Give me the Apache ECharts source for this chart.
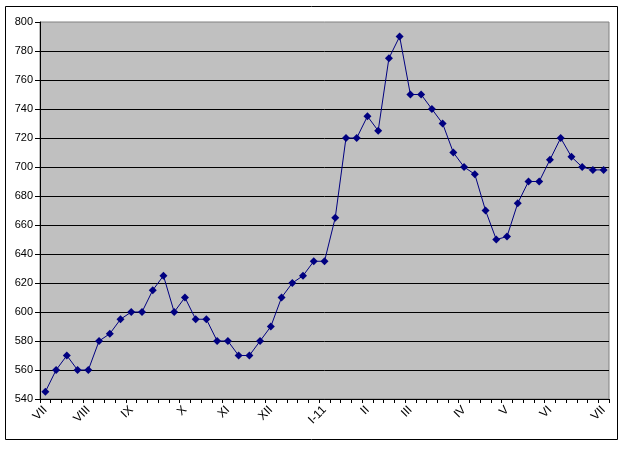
<!DOCTYPE html>
<html>
<head>
<meta charset="utf-8">
<script src="https://cdn.jsdelivr.net/npm/echarts@6/dist/echarts.min.js"></script>
<style>
html,body{margin:0;padding:0;background:#fff;}
#chart{width:628px;height:468px;}
</style>
</head>
<body>
<div id="chart"></div>
<script>
// Weekly values (53 points)
const values = [545,560,570,560,560,580,585,595,600,600,615,625,600,610,595,595,580,580,570,570,580,590,610,620,625,635,635,665,720,720,735,725,775,790,750,750,740,730,710,700,695,670,650,652,675,690,690,705,720,707,700,698,698];
const tickLabels = ['VII','VIII','IX','X','XI','XII','I-11','II','III','IV','V','VI','VII'];
const tickIndex = [0,4,8,13,17,21,26,30,34,39,43,47,52];
const yMin = 540, yMax = 800, yStep = 20;

const categories = values.map(function(_, i){
  const k = tickIndex.indexOf(i);
  return k >= 0 ? tickLabels[k] : '';
});

const chart = echarts.init(document.getElementById('chart'), null, {renderer:'canvas'});
chart.setOption({
  animation: false,
  backgroundColor: '#ffffff',
  textStyle: {fontFamily: 'Liberation Sans, Arial, sans-serif'},
  graphic: [{
    type: 'rect',
    shape: {x: 5.5, y: 6.5, width: 612, height: 433},
    style: {fill: 'none', stroke: '#000', lineWidth: 1},
    silent: true, z: -10
  }],
  grid: {
    left: 40, top: 22, right: 19, bottom: 69,
    show: true, backgroundColor: '#C0C0C0', borderColor: '#808080', borderWidth: 1
  },
  xAxis: {
    type: 'category',
    data: categories,
    boundaryGap: true,
    axisLine: {show: true, lineStyle: {color: '#000', width: 1}},
    axisTick: {show: true, interval: 0, length: 4, lineStyle: {color: '#000'}},
    axisLabel: {interval: 0, rotate: 45, margin: 9, color: '#000', fontSize: 12, fontFamily: 'Liberation Sans'},
    splitLine: {show: false}
  },
  yAxis: {
    type: 'value',
    min: yMin, max: yMax, interval: yStep,
    axisLine: {show: true, lineStyle: {color: '#000', width: 1}},
    axisTick: {show: true, length: 5, lineStyle: {color: '#000'}},
    axisLabel: {margin: 7, color: '#000', fontSize: 11, fontFamily: 'Liberation Sans'},
    splitLine: {show: true, showMaxLine: false, lineStyle: {color: '#000', width: 1}}
  },
  series: [{
    type: 'line',
    data: values,
    symbol: 'diamond',
    symbolSize: 8,
    showAllSymbol: true,
    itemStyle: {color: '#000080'},
    lineStyle: {color: '#000080', width: 1}
  }]
});
</script>
</body>
</html>
